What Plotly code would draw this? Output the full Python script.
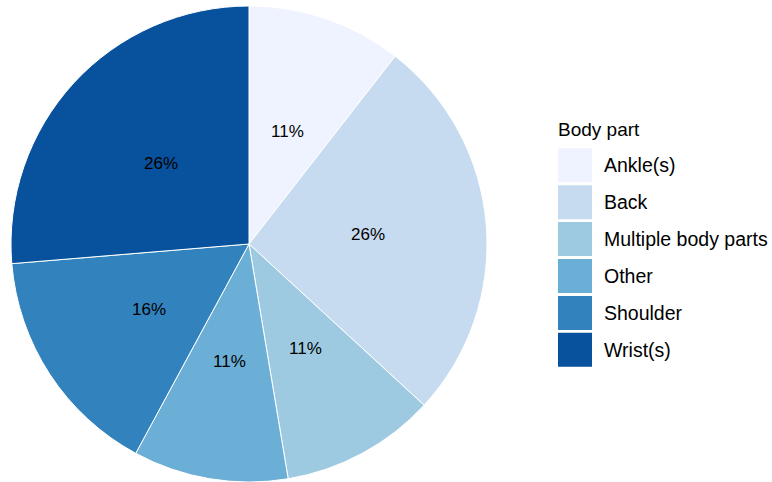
import math
import plotly.graph_objects as go

# counts per body part (shares: 11%, 26%, 11%, 11%, 16%, 26%)
body_parts = ["Ankle(s)", "Back", "Multiple body parts", "Other", "Shoulder", "Wrist(s)"]
counts = [2, 5, 2, 2, 3, 5]
colors = ["#eff3ff", "#c6dbef", "#9ecae1", "#6baed6", "#3182bd", "#08519c"]

W, H = 772, 482
TOP = 6
PH = H - TOP  # plot area height
FONT = "Liberation Sans, Arial, sans-serif"

# pie placement (pixels)
cx, cy, R = 249, TOP + PH / 2, PH / 2


def px_x(x):
    return x / W


def px_y(y):
    return 1 - (y - TOP) / PH


fig = go.Figure(
    go.Pie(
        labels=body_parts,
        values=counts,
        sort=False,
        direction="clockwise",
        rotation=0,
        marker=dict(colors=colors, line=dict(color="white", width=1)),
        textinfo="none",
        domain=dict(x=[px_x(cx - R), px_x(cx + R)], y=[0, 1]),
        showlegend=False,
        hoverinfo="label+value+percent",
    )
)

annotations, shapes = [], []

# percentage labels at half the radius, mid-angle of each slice
total = sum(counts)
cum = 0
for n in counts:
    mid = (cum + n / 2) / total * 2 * math.pi
    cum += n
    lx = cx + 0.5 * R * math.sin(mid)
    ly = cy - 0.5 * R * math.cos(mid)
    annotations.append(dict(
        x=px_x(lx), y=px_y(ly), xref="paper", yref="paper",
        text=f"{n / total:.0%}", showarrow=False,
        xanchor="center", yanchor="middle",
        font=dict(size=17, color="black", family=FONT),
    ))

# legend with large colour keys
legend_x0 = 558
legend_top = 148.3
box = 34
step = 36.9
annotations.append(dict(
    x=px_x(556), y=px_y(129), xref="paper", yref="paper",
    text="Body part", showarrow=False, xanchor="left", yanchor="middle",
    font=dict(size=19, color="black", family=FONT),
))
for i, (lab, col) in enumerate(zip(body_parts, colors)):
    top = legend_top + i * step
    shapes.append(dict(
        type="rect", xref="paper", yref="paper",
        x0=px_x(legend_x0), x1=px_x(legend_x0 + box),
        y0=px_y(top + box), y1=px_y(top),
        fillcolor=col, line=dict(width=0),
    ))
    annotations.append(dict(
        x=px_x(602), y=px_y(top + box / 2), xref="paper", yref="paper",
        text=lab, showarrow=False, xanchor="left", yanchor="middle",
        font=dict(size=19.5, color="black", family=FONT),
    ))

fig.update_layout(
    width=W,
    height=H,
    margin=dict(l=0, r=0, t=TOP, b=0),
    paper_bgcolor="white",
    plot_bgcolor="white",
    shapes=shapes,
    annotations=annotations,
    font=dict(family=FONT),
)

fig.write_html(
    "out.html",
    config={"displayModeBar": False},
    post_script="document.body.style.margin='0';",
)
